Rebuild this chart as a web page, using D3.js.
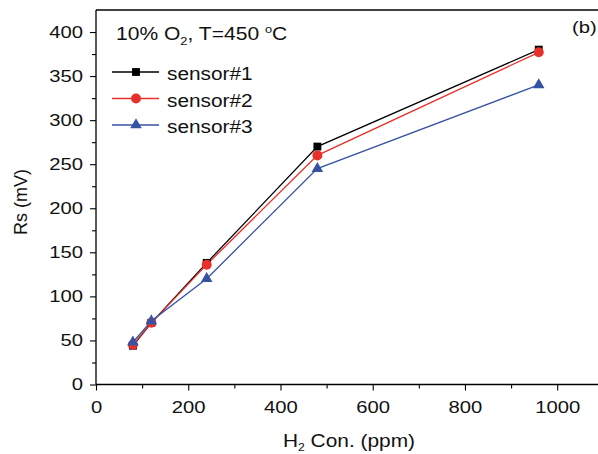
<!DOCTYPE html>
<html><head><meta charset="utf-8">
<script src="https://cdn.jsdelivr.net/npm/d3@7"></script>
<style>body{margin:0;background:#fff}svg{display:block}text{font-family:Arial,"Liberation Sans",sans-serif}</style>
</head><body>
<svg id="c" width="598" height="454"></svg>
<script>
const xValues = [80, 120, 240, 480, 960];
const sensor1 = [44, 70, 138, 270, 380];
const sensor2 = [45, 70, 136, 260, 377];
const sensor3 = [48, 72, 120, 245, 340];
const seriesNames = ["sensor#1", "sensor#2", "sensor#3"];
const colors = ["#000000", "#e8302a", "#3652a3"];
const symbols = ["square", "circle", "triangle"];
const xTicks = [0, 200, 400, 600, 800, 1000];
const yTicks = [0, 50, 100, 150, 200, 250, 300, 350, 400];

const K = 1.19; // horizontal text stretch seen in the reference
function stretch(sel, k) {
  sel.each(function () {
    const t = d3.select(this);
    const x = +t.attr("x") || 0;
    const y = +t.attr("y") || 0;
    t.attr("transform", `translate(${x},${y}) scale(${k},1) translate(${-x},${-y})`);
  });
}

const svg = d3.select("#c");
const L = 96, T = 10, B = 384.5;
const x = d3.scaleLinear().domain([0, 1100]).range([L, L + 1100 * 0.4612]);
const y = d3.scaleLinear().domain([0, 425]).range([B, T]);

// frame top
svg.append("line").attr("x1", L).attr("x2", 600).attr("y1", T).attr("y2", T).attr("stroke", "#000").attr("stroke-width", 1.3);

const xAxis = svg.append("g").attr("transform", `translate(0,${B})`)
  .call(d3.axisBottom(x).tickValues(xTicks).tickSize(6).tickPadding(10).tickFormat(d3.format("d")));
svg.append("g").attr("transform", `translate(0,${B})`)
  .call(d3.axisBottom(x).tickValues(d3.range(100, 1100, 200)).tickSize(4).tickFormat(""))
  .call(g => g.select(".domain").remove());
const yAxis = svg.append("g").attr("transform", `translate(${L},0)`)
  .call(d3.axisLeft(y).tickValues(yTicks).tickSize(6).tickPadding(7));
svg.append("g").attr("transform", `translate(${L},0)`)
  .call(d3.axisLeft(y).tickValues(d3.range(25, 425, 50)).tickSize(4).tickFormat(""))
  .call(g => g.select(".domain").remove());
svg.selectAll(".domain").attr("stroke-width", 1.3);
yAxis.select(".domain").attr("d", `M0,${B}V${T}`);
xAxis.select(".domain").attr("d", `M${L},0H600`);
svg.selectAll(".tick line").attr("stroke-width", 1.1);
svg.selectAll(".tick text").attr("font-size", 17).attr("fill", "#111");
xAxis.selectAll(".tick text").attr("dy", null)
  .each(function () { d3.select(this).attr("y", 28.5); });
stretch(svg.selectAll(".tick text"), K);

const series = [sensor1, sensor2, sensor3];
const symType = { square: d3.symbolSquare, circle: d3.symbolCircle, triangle: d3.symbolTriangle };
const symSize = { square: 62, circle: 78, triangle: 58 };
const line = d3.line().x((d, i) => x(xValues[i])).y(d => y(d));

series.forEach((s, k) => {
  svg.append("path").attr("d", line(s)).attr("fill", "none").attr("stroke", colors[k]).attr("stroke-width", 1.3);
});
series.forEach((s, k) => {
  svg.append("g").selectAll("path").data(s).join("path")
    .attr("transform", (d, i) => `translate(${x(xValues[i])},${y(d)})`)
    .attr("d", d3.symbol().type(symType[symbols[k]]).size(symSize[symbols[k]]))
    .attr("fill", colors[k]);
});

// legend
const legY = [72, 98.5, 125];
seriesNames.forEach((n, k) => {
  const g = svg.append("g").attr("transform", `translate(0,${legY[k]})`);
  g.append("line").attr("x1", 112).attr("x2", 159).attr("stroke", colors[k]).attr("stroke-width", 1.3);
  g.append("path").attr("transform", "translate(136,0)")
    .attr("d", d3.symbol().type(symType[symbols[k]]).size(symSize[symbols[k]])).attr("fill", colors[k]);
  const tx = g.append("text").attr("x", 167).attr("y", 8).attr("font-size", 17.5).attr("fill", "#111").text(n);
  stretch(tx, K);
});

// annotation
const t = svg.append("text").attr("x", 116).attr("y", 40).attr("font-size", 18).attr("fill", "#111");
t.append("tspan").text("10% O");
t.append("tspan").attr("font-size", 11).attr("dy", 5).text("2");
t.append("tspan").attr("dy", -5).text(", T=450 ");
t.append("tspan").attr("font-size", 11).attr("dy", -7).text("o");
t.append("tspan").attr("dy", 7).text("C");
stretch(t, 1.17);
const tb = svg.append("text").attr("x", 572).attr("y", 33).attr("font-size", 17).attr("fill", "#111").text("(b)");
stretch(tb, K);

// axis titles
svg.append("text").attr("transform", "translate(27,202) rotate(-90)").attr("text-anchor", "middle")
  .attr("font-size", 18).attr("fill", "#111").text("Rs (mV)");
const xt = svg.append("text").attr("x", 349).attr("y", 447).attr("text-anchor", "middle").attr("font-size", 18).attr("fill", "#111");
xt.append("tspan").text("H");
xt.append("tspan").attr("font-size", 10.5).attr("dy", 4).text("2");
xt.append("tspan").attr("dy", -4).text(" Con. (ppm)");
stretch(xt, 1.16);
</script>
</body></html>
